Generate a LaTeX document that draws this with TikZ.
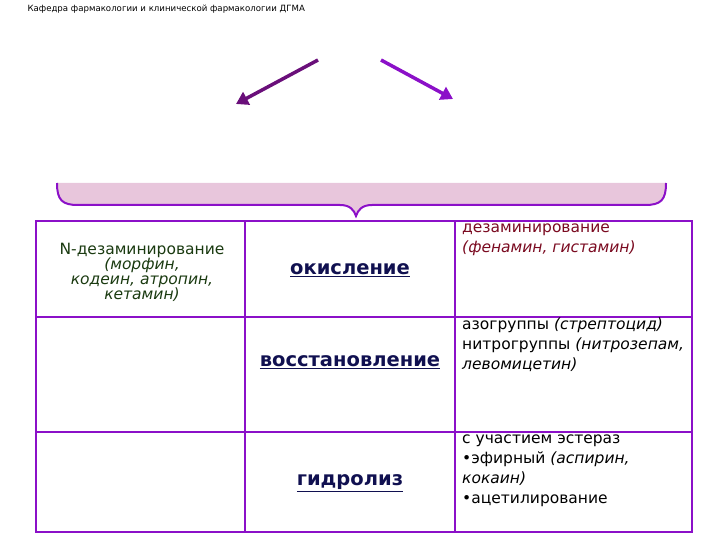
\documentclass[tikz,border=0pt]{standalone}
\usepackage{fontspec}
\setmainfont{DejaVu Sans}
\usetikzlibrary{arrows.meta}
\definecolor{vio}{HTML}{8B10C8}
\definecolor{dvio}{HTML}{6A0F7A}
\definecolor{pinkf}{HTML}{E8C6DC}
\definecolor{dgreen}{HTML}{1A3A10}
\definecolor{dred}{HTML}{7A0A20}
\definecolor{dblue}{HTML}{101050}
\tikzset{grid/.style={draw=vio,line width=2.2pt},
 arr/.style={line width=3.5pt,-{Triangle[length=12pt,width=14pt]}},
 cell/.style={font=\fontsize{15.5}{20}\selectfont,align=left,inner sep=2pt},
 head/.style={font=\bfseries\fontsize{19.5}{21}\selectfont,text=dblue}}
\begin{document}
\begin{tikzpicture}[x=1pt,y=-1pt]
\useasboundingbox (0,0) rectangle (720,540);
\node[anchor=west,font=\fontsize{8.6}{9}\selectfont] (hdr) at (24,9) {Кафедра фармакологии и клинической фармакологии ДГМА};
\coordinate (a1s) at (318,60); \coordinate (a1e) at (236,104);
\coordinate (a2s) at (381,60); \coordinate (a2e) at (453,99);
\draw[arr,dvio] (a1s) -- (a1e);
\draw[arr,vio] (a2s) -- (a2e);
\fill[pinkf] (57,183) .. controls (57,200) and (62,205) .. (78,205) -- (340,205) .. controls (350,205) and (354,210) .. (356,216) .. controls (358,210) and (362,205) .. (372,205) -- (645,205) .. controls (661,205) and (666,200) .. (666,183) -- cycle;
\draw[vio,line width=2pt] (57,183) .. controls (57,200) and (62,205) .. (78,205) -- (340,205) .. controls (350,205) and (354,210) .. (356,216) .. controls (358,210) and (362,205) .. (372,205) -- (645,205) .. controls (661,205) and (666,200) .. (666,183);
\draw[grid] (36,221) rectangle (692,532);
\draw[grid] (36,317) -- (692,317);
\draw[grid] (36,432) -- (692,432);
\draw[grid] (245,221) -- (245,532);
\draw[grid] (455,221) -- (455,532);
\node[cell,align=center,text=dgreen,font=\fontsize{15.5}{15}\selectfont] (c1) at (142,272) {N-дезаминирование\\\textit{(морфин,}\\\textit{кодеин, атропин,}\\\textit{кетамин)}};
\node[head] (c2) at (350,270) {\underline{окисление}};
\node[cell,anchor=north west,text=dred] (c3) at (460,222) {дезаминирование\\\textit{(фенамин, гистамин)}};
\node[head] (c5) at (350,362) {\underline{восстановление}};
\node[cell,anchor=north west] (c6) at (460,316) {азогруппы \textit{(стрептоцид)}\\нитрогруппы \textit{(нитрозепам,}\\\textit{левомицетин)}};
\node[head] (c8) at (350,483) {\underline{гидролиз}};
\node[cell,anchor=north west] (c9) at (460,433) {с участием эстераз\\•эфирный \textit{(аспирин,}\\\textit{кокаин)}\\•ацетилирование};
\end{tikzpicture}
\end{document}
